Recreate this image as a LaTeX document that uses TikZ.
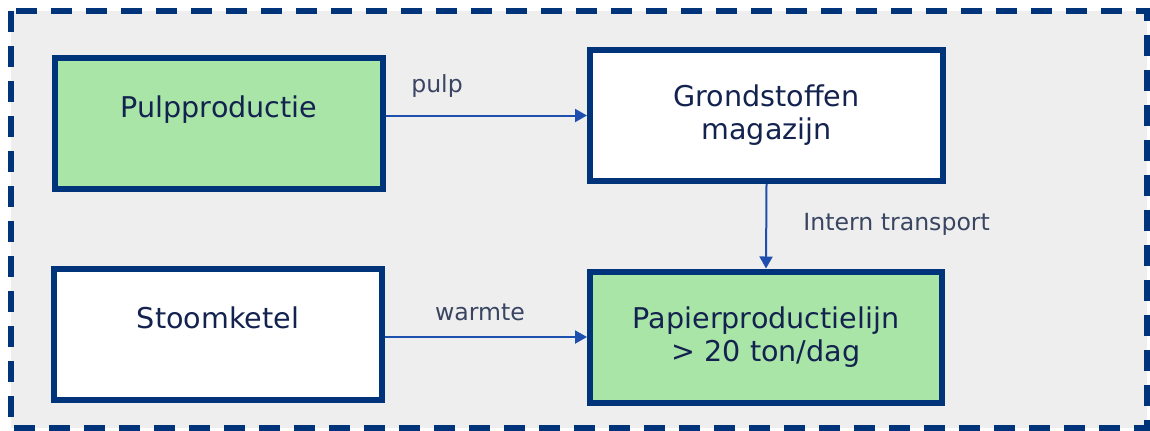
\documentclass[tikz,border=0pt]{standalone}
\usepackage{fontspec}
\setmainfont{DejaVu Sans}
\usepackage{tikz}
\usetikzlibrary{arrows.meta}
\definecolor{backColor}{HTML}{EEEEEE}
\definecolor{penColor}{HTML}{00347A}
\definecolor{flowColor}{HTML}{1F4FAE}
\definecolor{boxGreen}{HTML}{A8E5A6}
\definecolor{textColor}{HTML}{13224F}
\definecolor{labelColor}{HTML}{394561}
\tikzset{>={Triangle[length=6pt,width=6.5pt]},
  box/.style={draw=penColor,line width=3pt,fill=white,inner sep=0pt,
    minimum height=65.5pt,text=textColor,align=center,
    font=\fontsize{14.3}{16.5}\selectfont},
  greenbox/.style={box,fill=boxGreen},
  flow/.style={->,draw=flowColor,line width=1pt},
  lbl/.style={text=labelColor,inner sep=0pt,font=\fontsize{11.8}{14}\selectfont}}

\begin{document}
\begin{tikzpicture}[x=0.5pt,y=-0.5pt,line cap=butt]

  \useasboundingbox (0,0) rectangle (1150,430);

  \fill [backColor] (11,11) rectangle (1147,428);
  \draw [penColor,line width=3pt,dash pattern=on 10.5pt off 7pt] (11,11) rectangle (1147,428);


  \node [greenbox,minimum width=164pt] (pulp) at (219,123) {Pulpproductie\\~};
  \node [box,minimum width=176.5pt] (grond) at (766.5,115.5) {Grondstoffen\\magazijn};
  \node [box,minimum width=164pt] (stoom) at (218,334.5) {Stoomketel\\~};
  \node [greenbox,minimum width=176pt] (papier) at (766,337) {Papierproductielijn\\> 20 ton/dag};


  \draw [flow] (pulp.east |- grond.west) -- (grond.west);
  \draw [flow] (grond.south) -- (papier.north);
  \draw [flow] (stoom.east |- papier.west) -- (papier.west);

  \node [lbl,anchor=base] (pulplbl) at (437,92) {pulp};
  \node [lbl,anchor=base west] (translbl) at (803,230) {Intern transport};
  \node [lbl,anchor=base] (warmtelbl) at (480,320) {warmte};

\end{tikzpicture}
\end{document}
